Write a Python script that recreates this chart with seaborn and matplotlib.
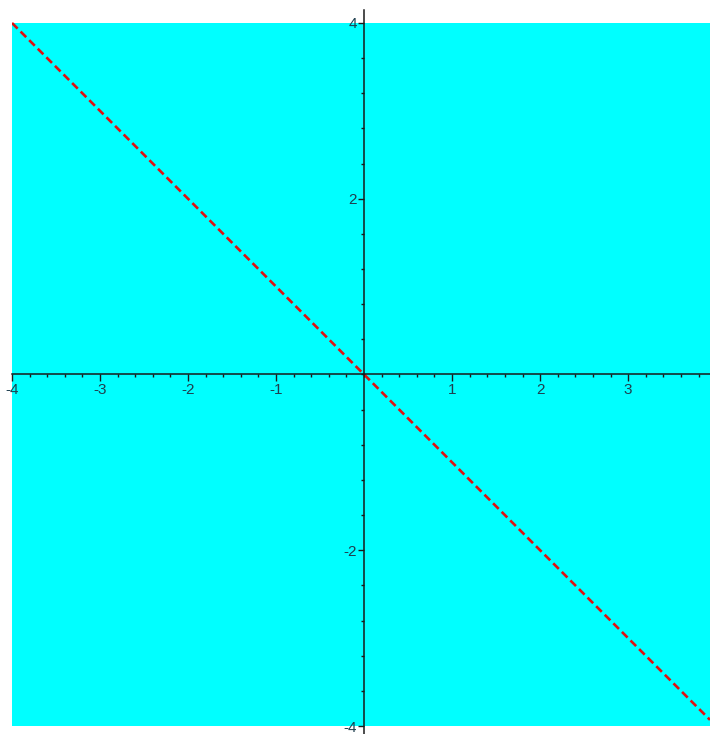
import numpy as np
import pandas as pd
import matplotlib
matplotlib.use("Agg")
import matplotlib.pyplot as plt
from matplotlib.ticker import MultipleLocator
import seaborn as sns

# Line y = -x over the plotted domain
x_vals = [-4.0, 3.93]
y_vals = [4.0, -3.93]

# Shaded region bounds
region_x = [-4.0, 3.93]
region_lo = -4.0
region_hi = 4.0

x_major = [-4, -3, -2, -1, 1, 2, 3]
y_major = [-4, -2, 2, 4]

sns.set_theme(style="white")
plt.rcParams['font.family'] = ['Liberation Sans', 'DejaVu Sans']

W, H = 710, 734
fig = plt.figure(figsize=(W / 100, H / 100), dpi=100)
ax = fig.add_axes([12 / W, 0, (W - 12) / W, 1])
ax.set_facecolor("white")

ppu = 87.9
ax.set_xlim(-4.0, 3.93)
ax.set_ylim(-4.0 - (H - 726) / ppu, 4.0 + 23 / ppu)

ax.fill_between(region_x, region_lo, region_hi, color="#00ffff", lw=0, zorder=0)

df = pd.DataFrame({"x": x_vals, "y": y_vals})
sns.lineplot(data=df, x="x", y="y", ax=ax, color="#e01010", lw=1.9,
             linestyle=(0, (3.0, 1.6)), zorder=3)

for s in ["top", "right"]:
    ax.spines[s].set_visible(False)
ax.spines["left"].set_position(("data", 0))
ax.spines["bottom"].set_position(("data", 0))
ax.spines["left"].set_bounds(-4.1, 4.0 + 13 / ppu)
for s in ["left", "bottom"]:
    ax.spines[s].set_color("#1a1a1a")
    ax.spines[s].set_linewidth(1.1)
    ax.spines[s].set_zorder(4)

ax.set_xticks(x_major)
ax.set_yticks(y_major)
ax.xaxis.set_minor_locator(MultipleLocator(0.2))
ax.yaxis.set_minor_locator(MultipleLocator(0.4))
ax.tick_params(axis="x", which="major", direction="out", length=5, width=1,
               color="#1a1a1a", labelsize=11, labelcolor="#1f3f4f", pad=1,
               bottom=True)
ax.tick_params(axis="x", which="minor", direction="out", length=2.5, width=1,
               color="#1a1a1a", bottom=True)
ax.tick_params(axis="y", which="major", direction="out", length=4, width=1,
               color="#1a1a1a", labelsize=11, labelcolor="#1f3f4f", pad=1,
               left=True)
ax.tick_params(axis="y", which="minor", direction="out", length=2.5, width=1,
               color="#1a1a1a", left=True)
ax.set_xticklabels([str(v) for v in x_major])
ax.set_yticklabels([str(v) for v in y_major])
ax.set_xlabel("")
ax.set_ylabel("")
for lab in ax.get_xticklabels() + ax.get_yticklabels():
    lab.set_zorder(5)

fig.savefig("out.png", dpi=100)
